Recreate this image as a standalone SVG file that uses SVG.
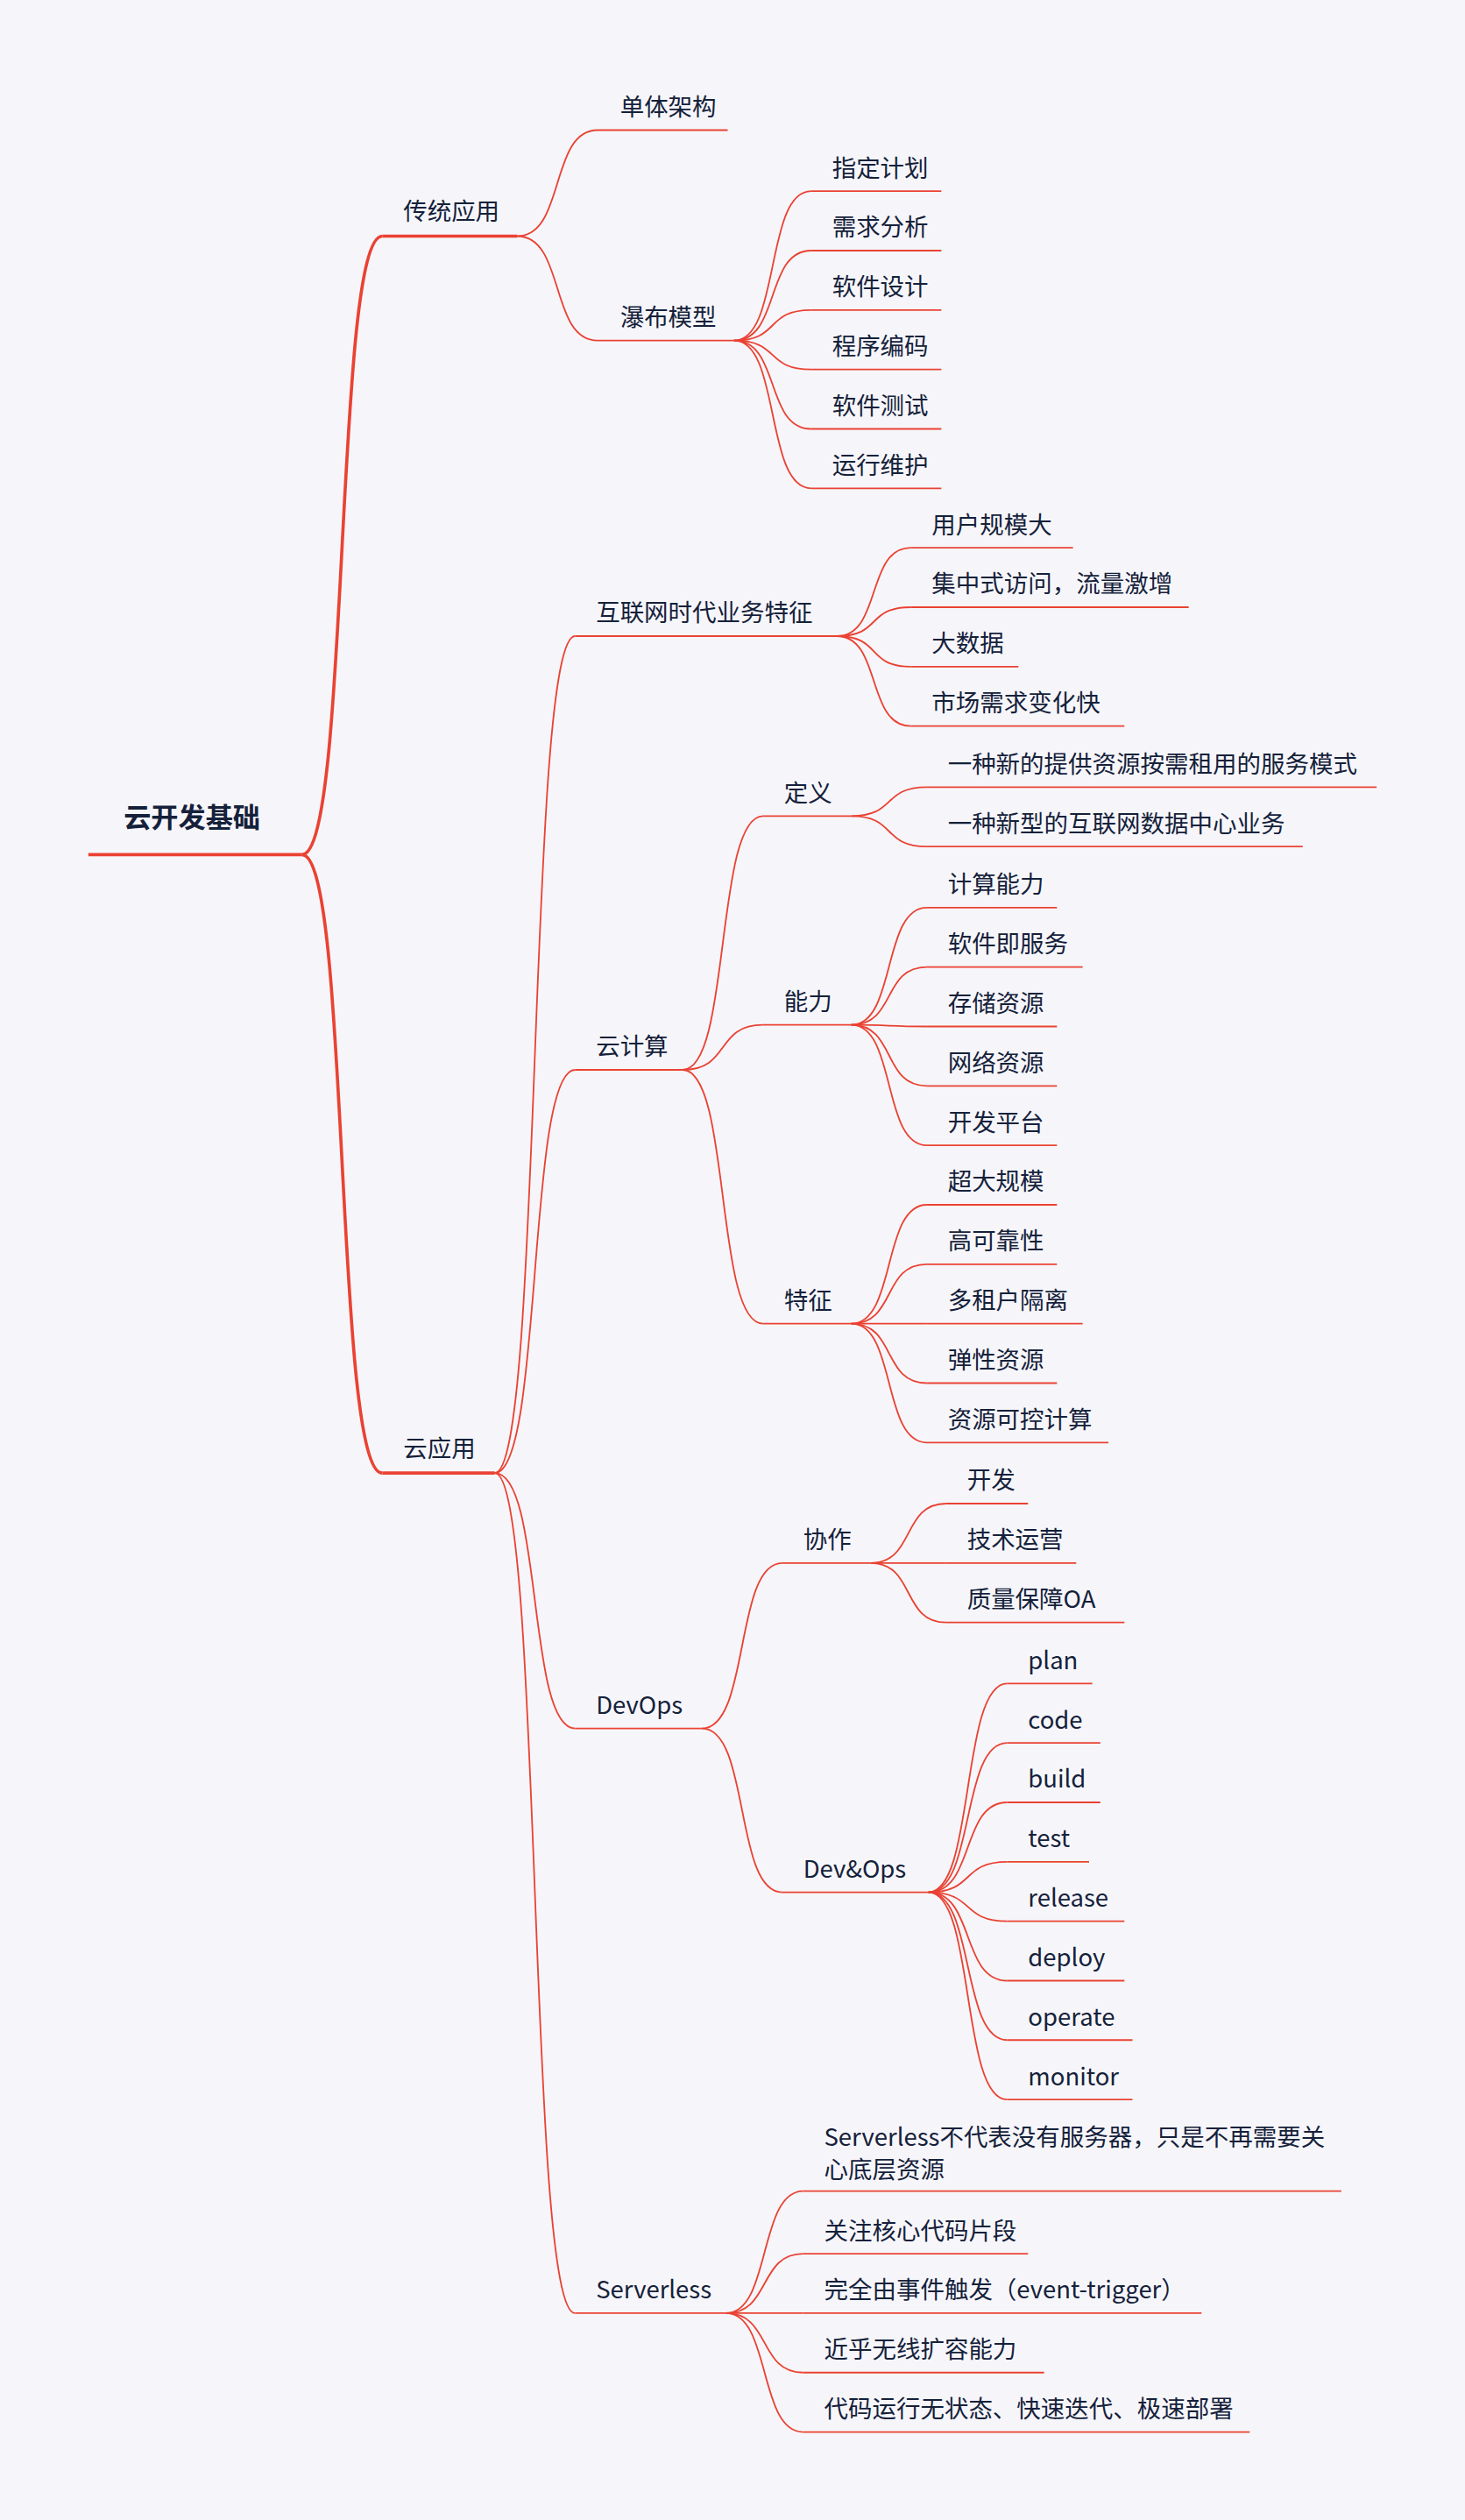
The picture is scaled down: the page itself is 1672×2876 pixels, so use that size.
<svg xmlns="http://www.w3.org/2000/svg" width="1672" height="2876" viewBox="0 0 1672 2876">
<style>
.t{font-family:"Noto Sans CJK SC","Noto Sans",sans-serif;font-size:15px;fill:#15213a}
.r{font-size:17px;font-weight:bold}
.u{stroke:#ea4233;stroke-width:1;fill:none}
.u2{stroke:#ea4233;stroke-width:2;fill:none}
.c{stroke:#ea4233;stroke-width:1;fill:none}
.c2{stroke:#ea4233;stroke-width:2;fill:none}
</style>
<rect width="1672" height="2876" fill="#f6f6fa"/>
<g transform="scale(1.8333)">
<g id="connectors">
<path class="c2" d="M188 532 C218 532 208 147 238 147"/>
<path class="c2" d="M188 532 C218 532 208 917 238 917"/>
<path class="c" d="M322 147 C352 147 342 81 372 81"/>
<path class="c" d="M322 147 C352 147 342 212 372 212"/>
<path class="c" d="M457 212 C486 212 476 119 505 119"/>
<path class="c" d="M457 212 C486 212 476 156 505 156"/>
<path class="c" d="M457 212 C486 212 476 193 505 193"/>
<path class="c" d="M457 212 C486 212 476 230 505 230"/>
<path class="c" d="M457 212 C486 212 476 267 505 267"/>
<path class="c" d="M457 212 C486 212 476 304 505 304"/>
<path class="c" d="M308 917 C338 917 328 396 358 396"/>
<path class="c" d="M308 917 C338 917 328 666 358 666"/>
<path class="c" d="M308 917 C338 917 328 1076 358 1076"/>
<path class="c" d="M308 917 C338 917 328 1440 358 1440"/>
<path class="c" d="M521 396 C549 396 539 341 567 341"/>
<path class="c" d="M521 396 C549 396 539 378 567 378"/>
<path class="c" d="M521 396 C549 396 539 415 567 415"/>
<path class="c" d="M521 396 C549 396 539 452 567 452"/>
<path class="c" d="M425 666 C455 666 445 508 475 508"/>
<path class="c" d="M425 666 C455 666 445 638 475 638"/>
<path class="c" d="M425 666 C455 666 445 824 475 824"/>
<path class="c" d="M530 508 C558 508 549 490 577 490"/>
<path class="c" d="M530 508 C558 508 549 527 577 527"/>
<path class="c" d="M530 638 C558 638 549 565 577 565"/>
<path class="c" d="M530 638 C558 638 549 602 577 602"/>
<path class="c" d="M530 638 C558 638 549 639 577 639"/>
<path class="c" d="M530 638 C558 638 549 676 577 676"/>
<path class="c" d="M530 638 C558 638 549 713 577 713"/>
<path class="c" d="M530 824 C558 824 549 750 577 750"/>
<path class="c" d="M530 824 C558 824 549 787 577 787"/>
<path class="c" d="M530 824 C558 824 549 824 577 824"/>
<path class="c" d="M530 824 C558 824 549 861 577 861"/>
<path class="c" d="M530 824 C558 824 549 898 577 898"/>
<path class="c" d="M437 1076 C467 1076 457 973 487 973"/>
<path class="c" d="M437 1076 C467 1076 457 1178 487 1178"/>
<path class="c" d="M542 973 C570 973 561 936 589 936"/>
<path class="c" d="M542 973 C570 973 561 973 589 973"/>
<path class="c" d="M542 973 C570 973 561 1010 589 1010"/>
<path class="c" d="M578 1178 C607 1178 598 1048 627 1048"/>
<path class="c" d="M578 1178 C607 1178 598 1085 627 1085"/>
<path class="c" d="M578 1178 C607 1178 598 1122 627 1122"/>
<path class="c" d="M578 1178 C607 1178 598 1159 627 1159"/>
<path class="c" d="M578 1178 C607 1178 598 1196 627 1196"/>
<path class="c" d="M578 1178 C607 1178 598 1233 627 1233"/>
<path class="c" d="M578 1178 C607 1178 598 1270 627 1270"/>
<path class="c" d="M578 1178 C607 1178 598 1307 627 1307"/>
<path class="c" d="M452 1440 C480 1440 472 1364 500 1364"/>
<path class="c" d="M452 1440 C480 1440 472 1403 500 1403"/>
<path class="c" d="M452 1440 C480 1440 472 1440 500 1440"/>
<path class="c" d="M452 1440 C480 1440 472 1477 500 1477"/>
<path class="c" d="M452 1440 C480 1440 472 1514 500 1514"/>
</g>
<g id="root"><text class="t r" x="77" y="515">云开发基础</text><line class="u2" x1="55" y1="532" x2="188" y2="532"/></g>
<g id="n-trad"><text class="t" x="251" y="137">传统应用</text><line class="u2" x1="238" y1="147" x2="322" y2="147"/></g>
<g id="n-cloudapp"><text class="t" x="251" y="907">云应用</text><line class="u2" x1="238" y1="917" x2="308" y2="917"/></g>
<g id="n-mono"><text class="t" x="386" y="72">单体架构</text><line class="u" x1="372" y1="81" x2="453" y2="81"/></g>
<g id="n-water"><text class="t" x="386" y="203">瀑布模型</text><line class="u" x1="372" y1="212" x2="457" y2="212"/></g>
<g id="n-w1"><text class="t" x="518" y="110">指定计划</text><line class="u" x1="505" y1="119" x2="586" y2="119"/></g>
<g id="n-w2"><text class="t" x="518" y="147">需求分析</text><line class="u" x1="505" y1="156" x2="586" y2="156"/></g>
<g id="n-w3"><text class="t" x="518" y="184">软件设计</text><line class="u" x1="505" y1="193" x2="586" y2="193"/></g>
<g id="n-w4"><text class="t" x="518" y="221">程序编码</text><line class="u" x1="505" y1="230" x2="586" y2="230"/></g>
<g id="n-w5"><text class="t" x="518" y="258">软件测试</text><line class="u" x1="505" y1="267" x2="586" y2="267"/></g>
<g id="n-w6"><text class="t" x="518" y="295">运行维护</text><line class="u" x1="505" y1="304" x2="586" y2="304"/></g>
<g id="n-inet"><text class="t" x="371" y="387">互联网时代业务特征</text><line class="u" x1="358" y1="396" x2="521" y2="396"/></g>
<g id="n-i1"><text class="t" x="580" y="332">用户规模大</text><line class="u" x1="567" y1="341" x2="668" y2="341"/></g>
<g id="n-i2"><text class="t" x="580" y="369">集中式访问，流量激增</text><line class="u" x1="567" y1="378" x2="740" y2="378"/></g>
<g id="n-i3"><text class="t" x="580" y="406">大数据</text><line class="u" x1="567" y1="415" x2="634" y2="415"/></g>
<g id="n-i4"><text class="t" x="580" y="443">市场需求变化快</text><line class="u" x1="567" y1="452" x2="700" y2="452"/></g>
<g id="n-cc"><text class="t" x="371" y="657">云计算</text><line class="u" x1="358" y1="666" x2="425" y2="666"/></g>
<g id="n-def"><text class="t" x="488" y="499">定义</text><line class="u" x1="475" y1="508" x2="530" y2="508"/></g>
<g id="n-d1"><text class="t" x="590" y="481">一种新的提供资源按需租用的服务模式</text><line class="u" x1="577" y1="490" x2="857" y2="490"/></g>
<g id="n-d2"><text class="t" x="590" y="518">一种新型的互联网数据中心业务</text><line class="u" x1="577" y1="527" x2="811" y2="527"/></g>
<g id="n-cap"><text class="t" x="488" y="629">能力</text><line class="u" x1="475" y1="638" x2="530" y2="638"/></g>
<g id="n-c1"><text class="t" x="590" y="556">计算能力</text><line class="u" x1="577" y1="565" x2="658" y2="565"/></g>
<g id="n-c2"><text class="t" x="590" y="593">软件即服务</text><line class="u" x1="577" y1="602" x2="674" y2="602"/></g>
<g id="n-c3"><text class="t" x="590" y="630">存储资源</text><line class="u" x1="577" y1="639" x2="658" y2="639"/></g>
<g id="n-c4"><text class="t" x="590" y="667">网络资源</text><line class="u" x1="577" y1="676" x2="658" y2="676"/></g>
<g id="n-c5"><text class="t" x="590" y="704">开发平台</text><line class="u" x1="577" y1="713" x2="658" y2="713"/></g>
<g id="n-feat"><text class="t" x="488" y="815">特征</text><line class="u" x1="475" y1="824" x2="530" y2="824"/></g>
<g id="n-f1"><text class="t" x="590" y="741">超大规模</text><line class="u" x1="577" y1="750" x2="658" y2="750"/></g>
<g id="n-f2"><text class="t" x="590" y="778">高可靠性</text><line class="u" x1="577" y1="787" x2="658" y2="787"/></g>
<g id="n-f3"><text class="t" x="590" y="815">多租户隔离</text><line class="u" x1="577" y1="824" x2="674" y2="824"/></g>
<g id="n-f4"><text class="t" x="590" y="852">弹性资源</text><line class="u" x1="577" y1="861" x2="658" y2="861"/></g>
<g id="n-f5"><text class="t" x="590" y="889">资源可控计算</text><line class="u" x1="577" y1="898" x2="690" y2="898"/></g>
<g id="n-devops"><text class="t" x="371" y="1067">DevOps</text><line class="u" x1="358" y1="1076" x2="437" y2="1076"/></g>
<g id="n-collab"><text class="t" x="500" y="964">协作</text><line class="u" x1="487" y1="973" x2="542" y2="973"/></g>
<g id="n-k1"><text class="t" x="602" y="927">开发</text><line class="u" x1="589" y1="936" x2="640" y2="936"/></g>
<g id="n-k2"><text class="t" x="602" y="964">技术运营</text><line class="u" x1="589" y1="973" x2="670" y2="973"/></g>
<g id="n-k3"><text class="t" x="602" y="1001">质量保障OA</text><line class="u" x1="589" y1="1010" x2="700" y2="1010"/></g>
<g id="n-devops2"><text class="t" x="500" y="1169">Dev&amp;Ops</text><line class="u" x1="487" y1="1178" x2="578" y2="1178"/></g>
<g id="n-o1"><text class="t" x="640" y="1039">plan</text><line class="u" x1="627" y1="1048" x2="680" y2="1048"/></g>
<g id="n-o2"><text class="t" x="640" y="1076">code</text><line class="u" x1="627" y1="1085" x2="685" y2="1085"/></g>
<g id="n-o3"><text class="t" x="640" y="1113">build</text><line class="u" x1="627" y1="1122" x2="685" y2="1122"/></g>
<g id="n-o4"><text class="t" x="640" y="1150">test</text><line class="u" x1="627" y1="1159" x2="678" y2="1159"/></g>
<g id="n-o5"><text class="t" x="640" y="1187">release</text><line class="u" x1="627" y1="1196" x2="700" y2="1196"/></g>
<g id="n-o6"><text class="t" x="640" y="1224">deploy</text><line class="u" x1="627" y1="1233" x2="700" y2="1233"/></g>
<g id="n-o7"><text class="t" x="640" y="1261">operate</text><line class="u" x1="627" y1="1270" x2="705" y2="1270"/></g>
<g id="n-o8"><text class="t" x="640" y="1298">monitor</text><line class="u" x1="627" y1="1307" x2="705" y2="1307"/></g>
<g id="n-sl"><text class="t" x="371" y="1431">Serverless</text><line class="u" x1="358" y1="1440" x2="452" y2="1440"/></g>
<g id="n-s1"><text class="t" x="513" y="1336">Serverless不代表没有服务器，只是不再需要关</text><text class="t" x="513" y="1356">心底层资源</text><line class="u" x1="500" y1="1364" x2="835" y2="1364"/></g>
<g id="n-s2"><text class="t" x="513" y="1394">关注核心代码片段</text><line class="u" x1="500" y1="1403" x2="640" y2="1403"/></g>
<g id="n-s3"><text class="t" x="513" y="1431">完全由事件触发（event-trigger）</text><line class="u" x1="500" y1="1440" x2="748" y2="1440"/></g>
<g id="n-s4"><text class="t" x="513" y="1468">近乎无线扩容能力</text><line class="u" x1="500" y1="1477" x2="650" y2="1477"/></g>
<g id="n-s5"><text class="t" x="513" y="1505">代码运行无状态、快速迭代、极速部署</text><line class="u" x1="500" y1="1514" x2="778" y2="1514"/></g>
</g>
</svg>
